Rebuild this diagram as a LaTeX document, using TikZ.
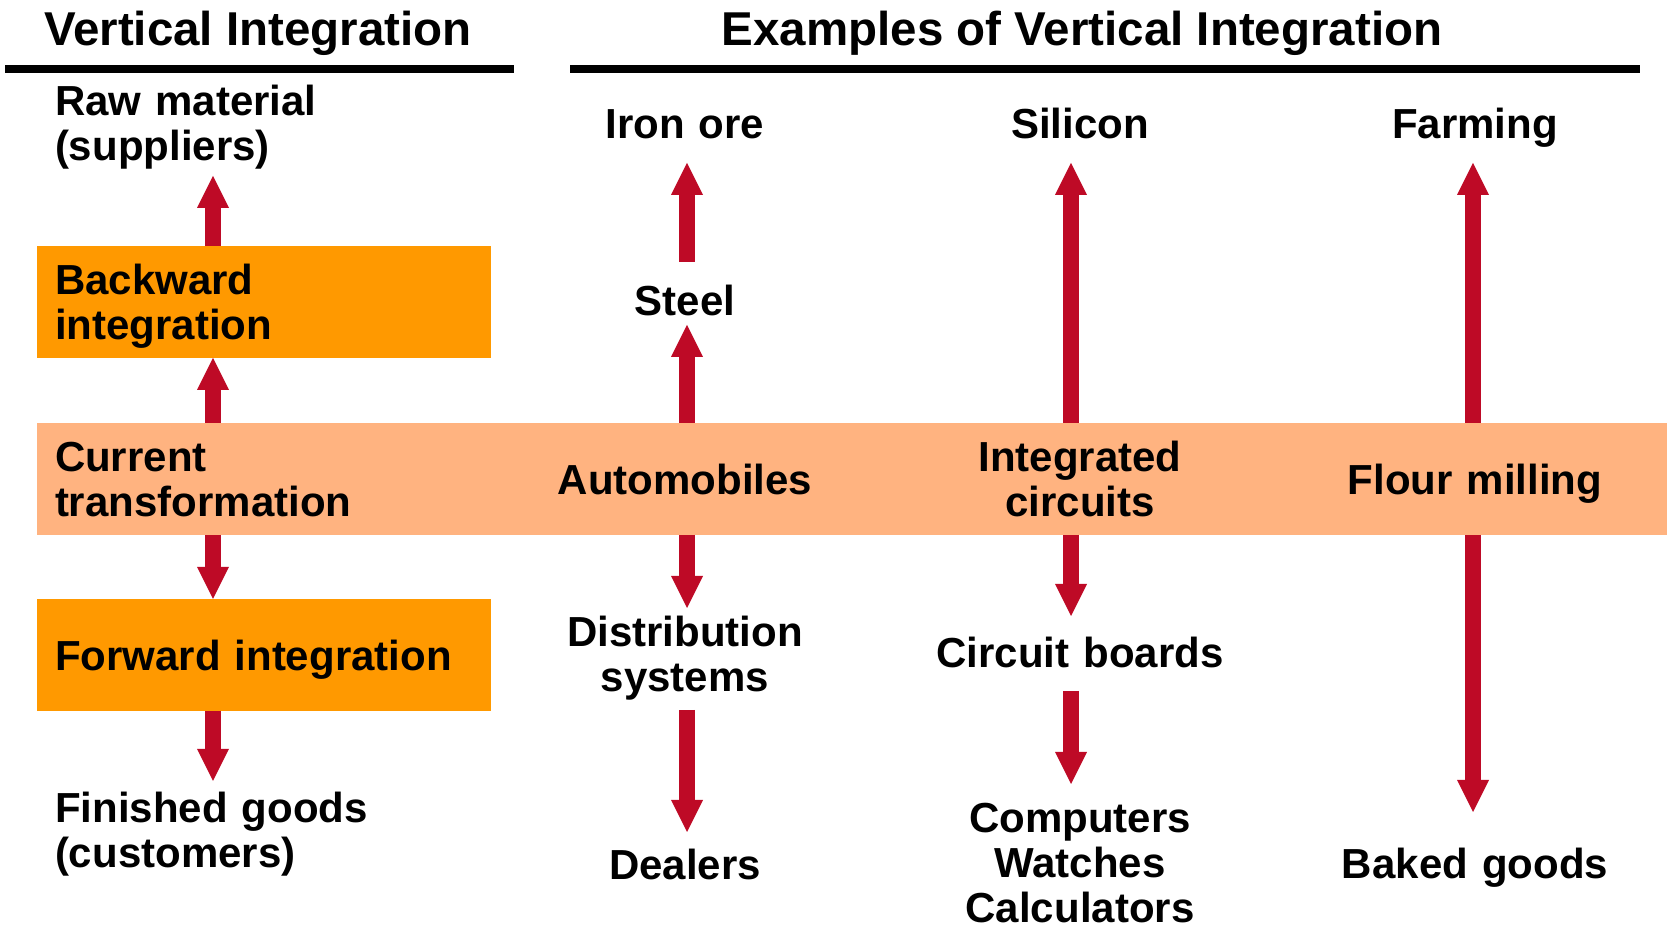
\documentclass[tikz,border=0pt]{standalone}
\usepackage{fontspec}
\setmainfont{Liberation Sans}
\usetikzlibrary{arrows.meta}
\definecolor{StageOrange}{HTML}{FF9900}
\definecolor{CurrentPeach}{HTML}{FFB380}
\definecolor{ArrowRed}{HTML}{BE0A26}
\newcommand\bodyfont{\fontsize{21pt}{22.5pt}\selectfont\bfseries}
\newcommand\headfont{\fontsize{23.75pt}{26pt}\selectfont\bfseries}
\newcommand\topstrut{\rule{0pt}{19.5pt}}
\newcommand\botstrut{\rule[-4.45pt]{0pt}{4.45pt}}
\begin{document}
\begin{tikzpicture}[
    x=0.5pt, y=-0.5pt,
    itemtext/.style={inner sep=0pt, outer sep=0pt, font=\bodyfont, align=center,
        text width=170pt, execute at begin node=\topstrut, execute at end node=\botstrut},
    stagebox/.style={itemtext, fill=StageOrange, anchor=north west, align=left,
        inner xsep=9pt, text width=209pt, minimum width=227pt, minimum height=56pt},
    bandbox/.style={stagebox, fill=CurrentPeach, text width=797pt, minimum width=815pt},
    heading/.style={inner sep=0pt, font=\headfont, anchor=base},
    headrule/.style={draw, line width=4pt},
    bigarrow/.style={draw=ArrowRed, line width=8pt,
        -{Triangle[length=16pt, width=16pt, line width=0pt]}}
]
\useasboundingbox (0,0) rectangle (1667,929);
\node (TitleLeft) [heading] at (258,46) {Vertical Integration};
\node (TitleRight) [heading] at (1082,46) {Examples of Vertical Integration};
\draw [headrule] (5,69) -- (514,69);
\draw [headrule] (570,69) -- (1640,69);

\coordinate (ColL) at (213,0);
\coordinate (ColA) at (687,0);
\coordinate (ColB) at (1071,0);
\coordinate (ColC) at (1473,0);

\node (Backward) [stagebox] at (37,246) {Backward\\integration};
\node (Current) [bandbox] at (37,423) {Current\\transformation};
\node (Forward) [stagebox] at (37,599) {Forward integration};
\node (RawMaterial) [itemtext, anchor=north west, align=left] at (55,77) {Raw material\\(suppliers)};
\node (Finished) [itemtext, anchor=north west, align=left] at (55,784) {Finished goods\\(customers)};

\node (IronOre) [itemtext, anchor=north] at (685,100) {Iron ore};
\node (Steel) [itemtext, anchor=north] at (685,277) {Steel};
\node (Automobiles) [itemtext] at (685,479) {Automobiles};
\node (Distribution) [itemtext, anchor=north] at (685,608) {Distribution\\systems};
\node (Dealers) [itemtext, anchor=north] at (685,841) {Dealers};

\node (Silicon) [itemtext, anchor=north] at (1080,100) {Silicon};
\node (IntCircuits) [itemtext] at (1080,479) {Integrated\\circuits};
\node (Boards) [itemtext, anchor=north] at (1080,629) {Circuit boards};
\node (Computers) [itemtext, anchor=north] at (1080,794) {Computers\\Watches\\Calculators};

\node (Farming) [itemtext, anchor=north] at (1475,100) {Farming};
\node (FlourMilling) [itemtext] at (1475,479) {Flour milling};
\node (Baked) [itemtext, anchor=north] at (1475,840) {Baked goods};

\draw [bigarrow, shorten >=3pt] (Backward.north -| ColL) -- (RawMaterial.south -| ColL);
\draw [bigarrow] (Current.north -| ColL) -- (Backward.south -| ColL);
\draw [bigarrow] (Current.south -| ColL) -- (Forward.north -| ColL);
\draw [bigarrow, shorten >=1.5pt] (Forward.south -| ColL) -- (Finished.north -| ColL);

\draw [bigarrow] (Current.north -| ColA) -- (Steel.south -| ColA);
\draw [bigarrow, shorten <=7.5pt, shorten >=7.5pt] (Steel.north -| ColA) -- (IronOre.south -| ColA);
\draw [bigarrow] (Current.south -| ColA) -- (Distribution.north -| ColA);
\draw [bigarrow, shorten <=4.5pt, shorten >=4.5pt] (Distribution.south -| ColA) -- (Dealers.north -| ColA);

\draw [bigarrow, shorten >=7.5pt] (Current.north -| ColB) -- (Silicon.south -| ColB);
\draw [bigarrow, shorten >=6.5pt] (Current.south -| ColB) -- (Boards.north -| ColB);
\draw [bigarrow, shorten <=7pt, shorten >=5pt] (Boards.south -| ColB) -- (Computers.north -| ColB);

\draw [bigarrow, shorten >=7.5pt] (Current.north -| ColC) -- (Farming.south -| ColC);
\draw [bigarrow, shorten >=14pt] (Current.south -| ColC) -- (Baked.north -| ColC);
\end{tikzpicture}
\end{document}
